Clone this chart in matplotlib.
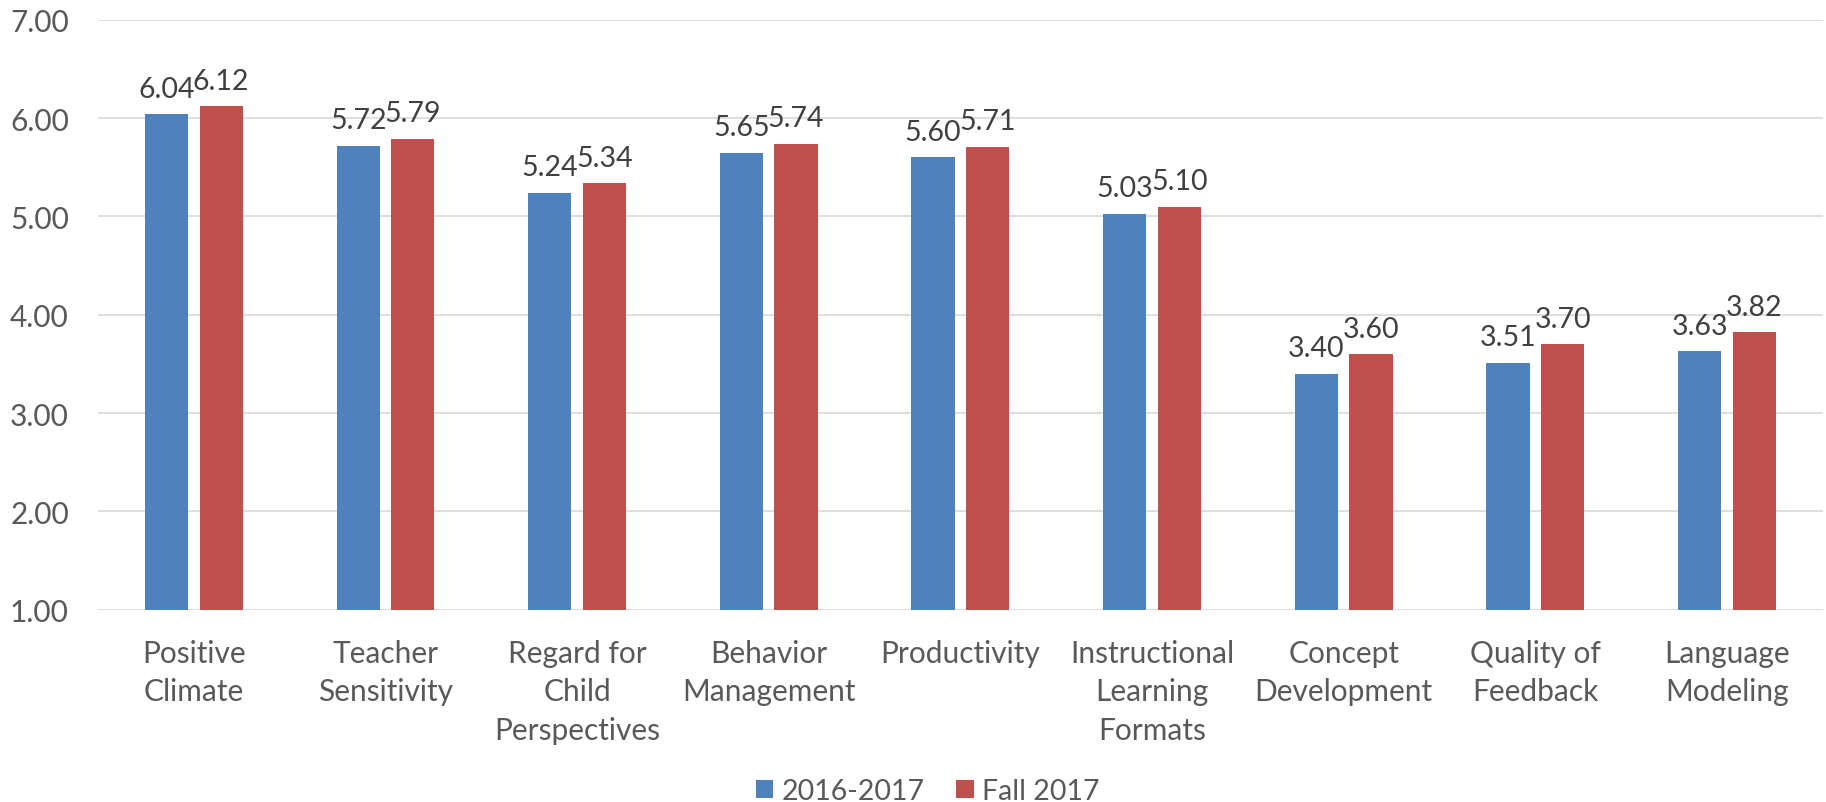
import numpy as np
import matplotlib.pyplot as plt

categories = ["Positive\nClimate", "Teacher\nSensitivity", "Regard for\nChild\nPerspectives",
              "Behavior\nManagement", "Productivity", "Instructional\nLearning\nFormats",
              "Concept\nDevelopment", "Quality of\nFeedback", "Language\nModeling"]
series_names = ["2016-2017", "Fall 2017"]
vals_2016 = [6.04, 5.72, 5.24, 5.65, 5.60, 5.03, 3.40, 3.51, 3.63]
vals_fall = [6.12, 5.79, 5.34, 5.74, 5.71, 5.10, 3.60, 3.70, 3.82]
yticks = [1, 2, 3, 4, 5, 6, 7]

plt.rcParams['font.family'] = ['Lato', 'DejaVu Sans']
fs = 21.5

fig = plt.figure(figsize=(18.26, 8.03), dpi=100)
ax = fig.add_axes([0.0537, 0.2395, 0.9445, 0.7345])

x = np.arange(len(categories))
w = 0.226
off = 0.1425
b1 = ax.bar(x - off, vals_2016, w, color='#4F81BD', label=series_names[0], zorder=3)
b2 = ax.bar(x + off, vals_fall, w, color='#C0504D', label=series_names[1], zorder=3)
for b in (b1, b2):
    ax.bar_label(b, fmt='%.2f', padding=9, fontsize=20.5, color='#404040')

ax.set_ylim(1, 7)
ax.set_xlim(-0.5, len(categories) - 0.5)
ax.set_yticks(yticks)
ax.set_yticklabels([f"{v:.2f}" for v in yticks])
ax.set_xticks(x)
ax.set_xticklabels(categories, linespacing=1.45)
ax.tick_params(axis='both', length=0, labelsize=fs, labelcolor='#595959')
ax.tick_params(axis='y', pad=21)
ax.tick_params(axis='x', pad=21)
ax.grid(axis='y', color='#D9D9D9', linewidth=1.2, zorder=0)
for s in ax.spines.values():
    s.set_visible(False)

fig.legend(loc='center', bbox_to_anchor=(0.508, 0.0137), ncol=2, frameon=False,
           fontsize=20.5, labelcolor='#595959', handlelength=0.62, handleheight=0.62,
           handletextpad=0.3, columnspacing=1.1)

fig.savefig("out.png", dpi=100)
